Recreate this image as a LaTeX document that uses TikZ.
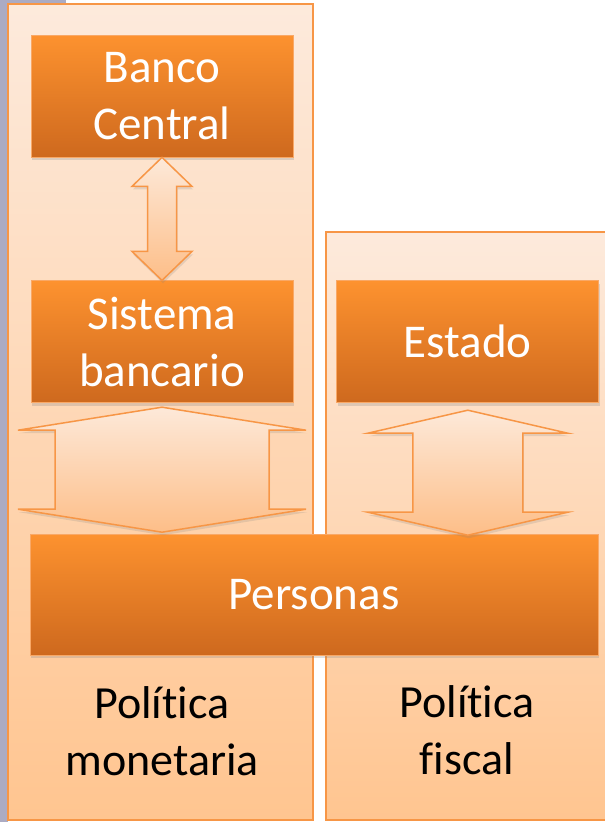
\documentclass[tikz,border=0pt]{standalone}
\usepackage{fontspec}
\setmainfont{Carlito}[Ligatures=NoCommon]
\usepackage{tikz}
\usetikzlibrary{positioning,shadows,calc}

\definecolor{naranja}{HTML}{F79646}
\definecolor{gris}{HTML}{ABABC3}
\definecolor{panelclaro}{HTML}{FDEADC}
\definecolor{paneloscuro}{HTML}{FFC590}
\definecolor{cajaclaro}{HTML}{FD922F}
\definecolor{cajaoscuro}{HTML}{CE691E}
\definecolor{cajaborde}{HTML}{F9A866}
\definecolor{flechaclaro}{HTML}{FDE9D9}
\definecolor{flechaoscuro}{HTML}{FDBE88}

\begin{document}
\begin{tikzpicture}[x=1pt,y=-1pt,node distance=123pt]
    \tikzstyle{panel}=[draw=naranja,line width=1.2pt,top color=panelclaro,bottom color=paneloscuro]
    \tikzstyle{caja}=[rectangle,draw=cajaborde,line width=0.8pt,top color=cajaclaro,
    bottom color=cajaoscuro,text=white,minimum width=262pt,minimum height=122pt,
    align=center,font=\fontsize{47}{57}\selectfont,
    drop shadow={shadow xshift=1pt,shadow yshift=-3pt,opacity=0.25}]
    \tikzstyle{flecha}=[draw=naranja,line width=1.5pt,top color=flechaclaro,bottom color=flechaoscuro,
    drop shadow={shadow xshift=1pt,shadow yshift=-3pt,opacity=0.2}]
    \tikzstyle{rotulo}=[align=center,text=black,font=\fontsize{46}{57}\selectfont]

    \useasboundingbox (0,0) rectangle (605,822);
    \fill[white] (0,0) rectangle (605,822);
    \fill[gris] (0,0) rectangle (8,822);
    \fill[gris] (0,0) rectangle (66,4);

    % paneles
    \draw[panel] (8,4) rectangle (313,820);
    \draw[panel] (326,232) rectangle (607,820);

    \node[caja] (banco) at (162,96) {Banco\\Central};
    \node[caja] (sistema) [below=of banco] {Sistema\\bancario};
    \node[caja] (estado) [right=43pt of sistema] {Estado};
    \node[caja,minimum width=568pt,minimum height=121pt] (personas) at (314,594.5) {Personas};

    % flechas dobles
    \draw[flecha] (banco.south) -- ++(30,29) -- ++(-15.5,0) -- ++(0,65) -- ++(15.5,0)
      -- ++(-30,29) -- ++(-30,-29) -- ++(15.5,0) -- ++(0,-65) -- ++(-15.5,0) -- cycle;
    \draw[flecha] ($(sistema.south)+(0,4)$) -- ++(144,23) -- ++(-37,0) -- ++(0,79) -- ++(37,0)
      -- ++(-144,23) -- ++(-144,-23) -- ++(37,0) -- ++(0,-79) -- ++(-37,0) -- cycle;
    \draw[flecha] ($(estado.south)+(0,7)$) -- ++(100,23) -- ++(-45,0) -- ++(0,79) -- ++(45,0)
      -- ++(-100,23) -- ++(-100,-23) -- ++(45,0) -- ++(0,-79) -- ++(-45,0) -- cycle;

    \node[rotulo] (monetaria) at (162,731) {Política\\monetaria};
    \node[rotulo] (fiscal) at (467,730) {Política\\fiscal};
  \end{tikzpicture}
\end{document}
